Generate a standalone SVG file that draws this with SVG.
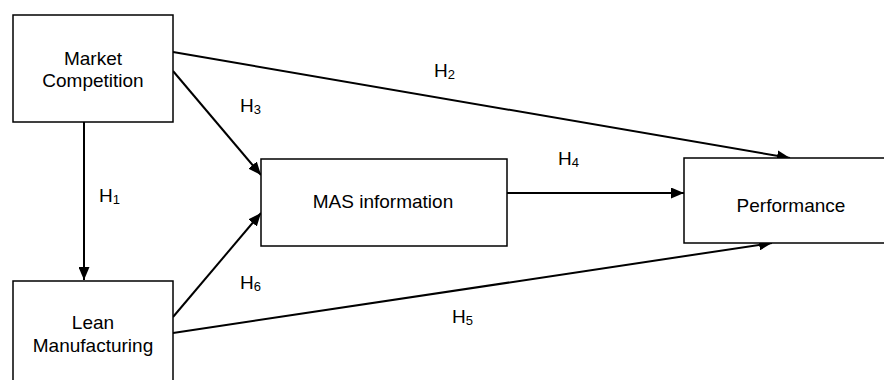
<svg xmlns="http://www.w3.org/2000/svg" width="884" height="380" viewBox="0 0 884 380">
<style>
.box{fill:#fff;stroke:#000;stroke-width:1.5}
.t{font-family:"Liberation Sans",Arial,sans-serif;font-size:19px;fill:#000;text-anchor:middle}
.h{font-family:"Liberation Sans",Arial,sans-serif;font-size:19px;fill:#000}
.s{font-size:13px}
.c{stroke:#000;stroke-width:2;fill:none;marker-end:url(#ah)}
</style>
<defs>
<marker id="ah" markerWidth="13" markerHeight="11" refX="13" refY="5.5" orient="auto" markerUnits="userSpaceOnUse">
<path d="M0,0 L13,5.5 L0,11 Z" fill="#000"/>
</marker>
</defs>
<rect width="884" height="380" fill="#fff"/>
<g id="connectors">
<line class="c" x1="84" y1="122" x2="84" y2="280"/>
<line class="c" x1="173" y1="52" x2="790" y2="158"/>
<line class="c" x1="173" y1="71" x2="261" y2="175"/>
<line class="c" x1="507" y1="193" x2="684" y2="193"/>
<line class="c" x1="173" y1="317" x2="261" y2="213"/>
<line class="c" x1="173" y1="333" x2="772" y2="243"/>
</g>
<g id="market">
<rect class="box" x="13" y="15" width="160" height="107"/>
<text class="t" x="93" y="65">Market</text>
<text class="t" x="93" y="87">Competition</text>
</g>
<g id="lean">
<rect class="box" x="13" y="281" width="160" height="120"/>
<text class="t" x="93" y="329">Lean</text>
<text class="t" x="93" y="352">Manufacturing</text>
</g>
<g id="mas">
<rect class="box" x="261" y="159" width="246" height="87"/>
<text class="t" x="383" y="208">MAS information</text>
</g>
<g id="performance">
<rect class="box" x="684" y="158" width="220" height="85"/>
<text class="t" x="791" y="212">Performance</text>
</g>
<g id="labels">
<text class="h" x="99" y="202">H<tspan class="s" dy="2">1</tspan></text>
<text class="h" x="434" y="77">H<tspan class="s" dy="2">2</tspan></text>
<text class="h" x="240" y="112">H<tspan class="s" dy="2">3</tspan></text>
<text class="h" x="558" y="165">H<tspan class="s" dy="2">4</tspan></text>
<text class="h" x="452" y="323">H<tspan class="s" dy="2">5</tspan></text>
<text class="h" x="240" y="289">H<tspan class="s" dy="2">6</tspan></text>
</g>
</svg>
